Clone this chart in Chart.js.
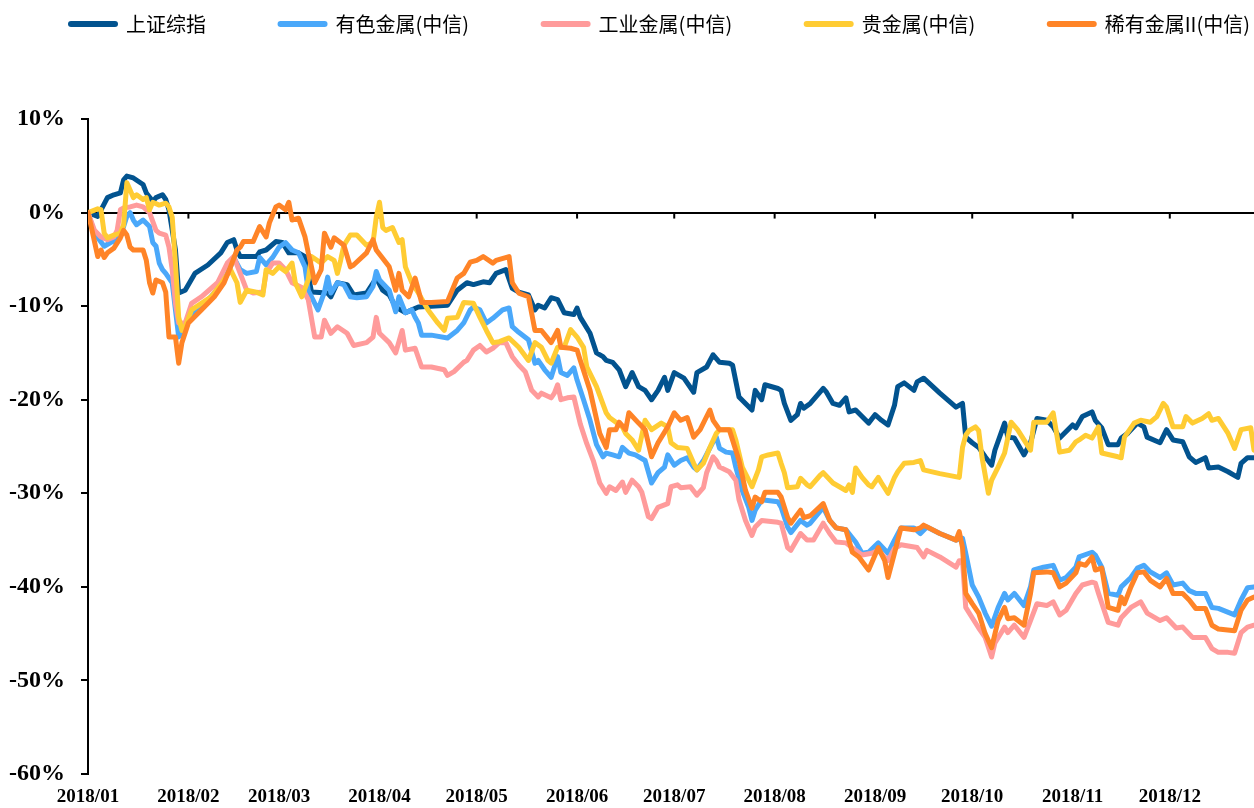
<!DOCTYPE html>
<html>
<head>
<meta charset="utf-8">
<script src="https://cdn.jsdelivr.net/npm/chart.js@4/dist/chart.umd.min.js"></script>
<style>
html,body{margin:0;padding:0;background:#ffffff;}
#wrap{width:1254px;height:808px;}
</style>
</head>
<body>
<div id="wrap"><canvas id="c" width="1254" height="808"></canvas></div>
<script>
// x = day of year 2018 (1 = Jan 2), y = cumulative return in %
const seriesNames = ['上证综指', '有色金属(中信)', '工业金属(中信)', '贵金属(中信)', '稀有金属II(中信)'];
const seriesColors = ['#02538F', '#4AA8FA', '#FF9B9B', '#FFCC33', '#FF8427'];

const monthTickDays = [1, 32, 60, 91, 121, 152, 182, 213, 244, 274, 305, 335];
const monthLabels = ['2018/01','2018/02','2018/03','2018/04','2018/05','2018/06','2018/07','2018/08','2018/09','2018/10','2018/11','2018/12'];

const shIndex = [[1,0],[4,-0.4],[7,1.6],[9,1.9],[11,2.1],[12,3.5],[13,3.9],[15,3.7],[18,3.0],[19,2.1],[21,1.2],[22,1.6],[24,1.9],[25,1.4],[26,0.3],[28,-4.0],[29,-8.6],[31,-8.3],[34,-6.5],[38,-5.6],[42,-4.3],[44,-3.2],[46,-2.9],[47,-4.0],[48,-4.7],[53,-4.7],[54,-4.2],[56,-4.0],[59,-3.1],[61,-3.2],[63,-4.3],[66,-4.3],[68,-4.7],[70,-8.5],[75,-8.6],[76,-9.0],[78,-7.5],[81,-7.7],[83,-8.8],[87,-8.6],[90,-7.0],[92,-8.3],[94,-8.8],[96,-10.1],[99,-10.7],[101,-10.4],[103,-10.1],[112,-9.9],[115,-8.3],[118,-7.5],[120,-7.7],[123,-7.4],[125,-7.5],[127,-6.5],[130,-6.1],[132,-8.1],[134,-8.5],[137,-8.8],[139,-10.4],[140,-9.9],[142,-10.2],[144,-9.1],[146,-9.3],[148,-10.7],[151,-10.9],[152,-10.2],[153,-11.2],[156,-12.9],[158,-15.0],[160,-15.4],[161,-15.8],[163,-16.0],[165,-16.8],[167,-18.6],[169,-17.1],[171,-18.6],[173,-19.0],[175,-20.0],[177,-19.0],[179,-17.6],[180,-19.0],[182,-17.1],[185,-17.7],[188,-19.2],[189,-17.1],[192,-16.5],[194,-15.2],[196,-16.0],[199,-16.1],[200,-16.3],[202,-19.7],[206,-21.1],[207,-19.0],[209,-20.0],[210,-18.4],[214,-18.8],[215,-19.0],[216,-20.4],[218,-22.2],[220,-21.6],[221,-20.4],[222,-20.9],[224,-20.4],[228,-18.8],[229,-19.2],[231,-20.4],[233,-20.6],[235,-19.8],[236,-21.3],[238,-21.1],[242,-22.5],[244,-21.6],[246,-22.2],[248,-22.7],[250,-20.6],[251,-18.6],[253,-18.2],[256,-19.0],[257,-18.1],[259,-17.7],[264,-19.3],[269,-20.8],[271,-20.4],[272,-24.0],[274,-24.6],[276,-25.1],[278,-26.1],[280,-27.0],[281,-25.4],[284,-22.5],[285,-24.0],[287,-24.1],[290,-25.9],[292,-24.6],[294,-22.0],[297,-22.2],[299,-22.9],[301,-24.1],[305,-22.7],[306,-23.0],[308,-21.8],[311,-21.3],[312,-22.2],[314,-23.0],[316,-24.8],[319,-24.8],[320,-24.1],[322,-23.6],[325,-22.5],[327,-22.9],[328,-24.0],[332,-24.6],[334,-23.2],[336,-24.3],[339,-24.5],[341,-26.1],[343,-26.7],[346,-26.2],[347,-27.3],[350,-27.2],[353,-27.7],[356,-28.3],[357,-26.8],[359,-26.2],[361,-26.2]];

const nonferrous = [[1,0],[3,-2.2],[6,-3.6],[8,-3.2],[10,-2.9],[12,-1.5],[13,-0.4],[14,0.0],[15,-0.8],[16,-1.3],[18,-0.8],[20,-1.5],[21,-3.2],[22,-3.6],[23,-5.4],[24,-6.1],[25,-6.5],[27,-7.5],[28,-10.4],[29,-13.3],[31,-12.2],[32,-11.2],[36,-10.1],[40,-8.6],[43,-7.2],[45,-5.8],[46,-4.8],[48,-6.1],[50,-6.5],[53,-6.3],[54,-4.8],[56,-5.6],[58,-4.8],[60,-3.7],[62,-3.2],[64,-4.0],[66,-4.3],[68,-5.8],[69,-8.3],[72,-10.4],[74,-8.5],[75,-6.9],[76,-8.6],[78,-7.5],[80,-7.7],[82,-9.0],[84,-9.1],[87,-9.0],[89,-7.9],[90,-6.3],[91,-7.2],[94,-8.3],[96,-10.6],[97,-9.0],[99,-10.7],[101,-10.4],[102,-11.2],[103,-11.8],[104,-13.1],[107,-13.1],[112,-13.4],[115,-12.6],[117,-11.8],[119,-10.4],[120,-10.1],[122,-10.4],[124,-11.8],[126,-11.3],[129,-10.4],[131,-10.2],[132,-12.2],[134,-12.8],[137,-13.6],[139,-16.1],[140,-15.8],[142,-16.8],[144,-17.6],[146,-15.4],[147,-17.1],[149,-17.4],[151,-16.6],[152,-17.9],[154,-20.0],[156,-22.2],[158,-24.8],[160,-26.1],[161,-25.7],[163,-25.9],[165,-26.1],[166,-25.1],[168,-25.7],[170,-25.9],[173,-26.5],[175,-28.9],[177,-27.8],[179,-27.2],[180,-25.9],[182,-27.0],[184,-26.5],[186,-26.2],[188,-27.2],[189,-27.5],[191,-26.5],[194,-24.5],[195,-24.0],[196,-25.2],[198,-25.6],[200,-25.7],[201,-27.2],[203,-29.7],[205,-31.5],[206,-32.9],[207,-31.8],[209,-30.7],[214,-30.9],[215,-31.5],[217,-33.6],[218,-34.2],[221,-32.9],[223,-33.4],[224,-33.2],[228,-31.5],[230,-32.9],[232,-33.7],[235,-33.9],[238,-35.2],[240,-36.4],[242,-36.3],[245,-35.3],[248,-36.4],[250,-35.0],[252,-33.7],[256,-33.7],[258,-34.3],[260,-33.6],[264,-34.3],[269,-35.0],[271,-34.8],[272,-36.4],[274,-39.8],[276,-41.1],[278,-42.8],[280,-44.2],[282,-42.2],[284,-40.7],[285,-41.4],[287,-40.7],[290,-42.0],[292,-40.0],[293,-38.2],[296,-37.9],[299,-37.7],[301,-39.3],[303,-39.0],[306,-37.9],[307,-36.8],[311,-36.3],[312,-36.6],[314,-37.9],[316,-40.7],[319,-40.9],[320,-40.0],[323,-39.0],[325,-38.0],[327,-37.7],[329,-38.4],[332,-39.0],[334,-38.5],[336,-39.8],[339,-39.6],[341,-40.4],[343,-40.7],[346,-40.7],[348,-42.2],[350,-42.3],[355,-43.0],[357,-41.4],[359,-40.1],[361,-40.0]];

const industrial = [[1,0],[3,-1.9],[5,-2.6],[7,-2.9],[9,-2.6],[10,-1.9],[11,0.3],[12,0.5],[14,0.6],[16,0.8],[18,0.6],[20,0.0],[22,-1.9],[23,-2.2],[25,-2.4],[26,-3.7],[27,-6.1],[28,-9.7],[29,-11.8],[31,-11.8],[33,-9.7],[36,-9.0],[41,-7.5],[44,-5.4],[46,-4.7],[48,-6.5],[50,-8.3],[52,-8.6],[55,-8.5],[56,-6.5],[58,-5.4],[60,-5.4],[62,-6.1],[64,-7.5],[67,-8.0],[69,-9.3],[71,-13.3],[73,-13.3],[74,-11.5],[76,-12.9],[78,-12.2],[81,-12.9],[83,-14.2],[87,-13.9],[89,-13.3],[90,-11.2],[91,-12.9],[94,-13.9],[96,-15.0],[98,-12.6],[99,-14.7],[102,-14.5],[104,-16.5],[107,-16.5],[111,-16.8],[112,-17.4],[114,-17.0],[117,-16.0],[118,-15.8],[120,-14.7],[122,-14.2],[124,-14.9],[126,-14.5],[128,-13.9],[130,-13.9],[132,-15.4],[134,-16.3],[136,-17.0],[138,-19.0],[140,-19.7],[141,-19.3],[144,-19.8],[145,-19.3],[146,-18.4],[147,-20.0],[149,-19.8],[151,-19.7],[153,-22.6],[155,-24.7],[157,-26.5],[159,-28.9],[161,-30.0],[162,-29.3],[164,-29.7],[166,-28.8],[167,-29.9],[169,-28.6],[171,-29.3],[172,-29.9],[174,-32.5],[175,-32.7],[177,-31.5],[180,-31.1],[181,-29.3],[183,-29.1],[184,-29.4],[187,-29.3],[189,-30.2],[191,-29.4],[192,-27.8],[194,-26.1],[195,-26.5],[196,-27.2],[199,-27.7],[201,-28.6],[202,-30.7],[204,-32.9],[206,-34.5],[207,-33.6],[209,-32.9],[214,-33.1],[215,-33.2],[217,-35.8],[218,-36.1],[221,-34.3],[223,-35.0],[225,-35.0],[228,-33.2],[230,-34.3],[232,-35.2],[235,-35.3],[238,-36.1],[240,-36.6],[243,-36.4],[245,-36.1],[248,-37.2],[250,-35.9],[252,-35.5],[257,-35.8],[259,-36.8],[260,-36.1],[264,-36.8],[269,-37.9],[270,-37.2],[271,-37.2],[272,-42.2],[274,-43.3],[276,-44.4],[278,-45.4],[280,-47.5],[281,-46.0],[284,-44.3],[285,-44.9],[287,-44.1],[290,-45.4],[292,-43.6],[294,-41.8],[297,-42.0],[299,-41.6],[301,-43.0],[303,-42.5],[306,-40.7],[308,-39.8],[311,-39.5],[312,-39.6],[313,-40.7],[316,-43.8],[319,-44.1],[320,-43.3],[323,-42.2],[326,-41.6],[328,-42.8],[332,-43.6],[334,-43.3],[337,-44.4],[339,-44.3],[342,-45.4],[346,-45.4],[348,-46.6],[350,-47.0],[353,-47.0],[355,-47.1],[357,-44.9],[359,-44.3],[361,-44.1]];

const precious = [[1,0],[4,0.4],[5,0.3],[6,-2.2],[7,-2.7],[9,-2.4],[11,-2.2],[12,-1.3],[13,3.2],[15,1.6],[16,1.9],[18,1.4],[19,1.6],[20,0.3],[21,1.1],[23,0.8],[25,1.0],[26,0.6],[27,-0.5],[28,-5.4],[29,-11.2],[30,-12.6],[31,-12.2],[33,-10.4],[36,-9.7],[39,-9.0],[42,-7.7],[45,-6.1],[47,-7.5],[48,-9.6],[50,-8.3],[53,-8.5],[55,-8.8],[56,-6.1],[58,-6.5],[60,-5.8],[62,-6.3],[64,-5.4],[65,-7.5],[67,-9.0],[69,-7.2],[70,-4.7],[73,-5.4],[75,-4.7],[77,-5.1],[78,-6.5],[79,-5.1],[80,-3.5],[82,-2.4],[84,-2.4],[87,-3.5],[89,-3.2],[90,-0.5],[91,1.1],[92,-1.6],[93,-1.9],[95,-1.6],[97,-3.2],[98,-2.9],[99,-5.8],[101,-7.5],[103,-8.6],[106,-10.4],[109,-11.8],[111,-12.6],[112,-11.3],[115,-11.2],[117,-9.6],[120,-9.7],[122,-11.2],[124,-12.6],[126,-13.9],[128,-13.8],[131,-13.4],[134,-14.4],[137,-15.8],[139,-13.9],[141,-14.4],[143,-15.8],[144,-16.1],[146,-14.4],[148,-14.4],[150,-12.5],[152,-13.3],[154,-14.4],[155,-16.5],[158,-18.6],[161,-21.4],[162,-21.9],[164,-22.4],[166,-22.9],[167,-23.6],[169,-24.3],[171,-25.4],[173,-22.2],[175,-23.2],[178,-22.5],[180,-22.9],[181,-24.6],[183,-25.1],[186,-25.2],[188,-26.8],[189,-27.5],[191,-26.8],[193,-25.1],[195,-23.6],[196,-23.2],[200,-23.2],[201,-24.3],[203,-27.2],[205,-28.6],[206,-29.3],[208,-27.5],[209,-26.1],[211,-25.9],[214,-25.7],[215,-26.8],[216,-27.8],[217,-29.4],[220,-29.3],[221,-28.4],[223,-29.1],[224,-29.3],[227,-28.1],[228,-27.8],[231,-28.9],[233,-29.3],[235,-29.7],[236,-29.1],[237,-29.9],[238,-27.3],[240,-28.3],[242,-29.1],[243,-29.3],[245,-28.3],[246,-28.9],[248,-30.0],[250,-28.3],[251,-27.7],[253,-26.8],[256,-26.7],[258,-26.5],[259,-27.5],[264,-27.9],[270,-28.3],[271,-25.1],[272,-23.8],[273,-23.3],[275,-22.9],[276,-23.3],[277,-26.1],[279,-30.0],[280,-28.6],[282,-27.2],[284,-25.7],[286,-22.4],[288,-23.2],[290,-24.3],[292,-25.4],[293,-22.4],[297,-22.4],[299,-21.4],[301,-25.6],[304,-25.4],[306,-24.5],[307,-24.3],[309,-23.8],[311,-24.1],[313,-22.9],[314,-25.7],[319,-26.1],[320,-26.2],[321,-24.0],[324,-22.5],[326,-22.2],[329,-22.4],[331,-21.8],[333,-20.4],[334,-20.8],[336,-22.9],[339,-22.9],[340,-21.8],[342,-22.5],[345,-22.0],[347,-21.5],[348,-22.2],[350,-22.0],[353,-23.6],[355,-25.2],[357,-23.2],[360,-23.0],[361,-25.4]];

const rareMetals = [[1,0],[2,-1.5],[4,-4.7],[5,-4.0],[6,-4.8],[7,-4.3],[9,-3.8],[11,-2.7],[12,-1.9],[13,-2.4],[14,-3.7],[15,-4.0],[18,-4.0],[19,-5.1],[20,-7.5],[21,-8.6],[22,-7.2],[24,-7.5],[25,-8.5],[26,-13.3],[28,-13.3],[29,-16.1],[30,-13.9],[32,-11.8],[36,-10.4],[40,-9.0],[43,-7.5],[45,-5.8],[47,-4.0],[48,-3.7],[49,-3.1],[52,-3.1],[54,-1.5],[56,-2.6],[57,-1.1],[59,0.6],[60,0.8],[62,0.3],[63,1.1],[64,-0.8],[66,-0.6],[68,-2.6],[69,-4.3],[70,-5.8],[71,-7.5],[73,-6.1],[74,-2.2],[76,-3.7],[77,-2.7],[80,-3.5],[82,-5.8],[83,-5.6],[87,-4.3],[89,-2.9],[90,-4.0],[94,-5.8],[96,-8.3],[97,-6.5],[98,-8.3],[100,-9.0],[102,-7.0],[103,-8.3],[104,-9.6],[107,-9.6],[112,-9.5],[115,-7.0],[117,-6.5],[119,-5.3],[121,-5.1],[123,-4.7],[126,-5.4],[127,-5.1],[131,-4.7],[132,-7.5],[134,-8.6],[137,-9.0],[139,-12.6],[141,-12.6],[144,-13.9],[146,-12.6],[147,-14.4],[150,-14.5],[152,-14.7],[153,-15.8],[156,-19.0],[159,-23.6],[161,-25.1],[162,-23.2],[164,-23.2],[165,-22.4],[167,-23.2],[168,-21.4],[171,-22.5],[173,-23.2],[175,-26.1],[177,-24.6],[180,-22.9],[182,-21.4],[184,-22.2],[186,-21.9],[188,-24.0],[190,-23.2],[193,-21.1],[194,-22.2],[196,-23.2],[199,-23.2],[202,-26.5],[204,-29.7],[206,-31.6],[207,-30.4],[209,-30.9],[210,-29.9],[214,-29.9],[215,-30.4],[217,-32.6],[218,-33.2],[221,-31.8],[222,-32.6],[224,-32.4],[228,-31.1],[230,-32.9],[232,-33.7],[235,-33.9],[237,-36.3],[239,-36.8],[242,-38.2],[245,-35.8],[247,-37.2],[248,-39.0],[250,-36.4],[252,-33.7],[256,-33.9],[258,-33.7],[259,-33.4],[264,-34.3],[269,-35.0],[270,-34.1],[271,-35.8],[272,-40.7],[274,-41.8],[276,-42.8],[278,-45.0],[280,-46.5],[282,-43.6],[284,-42.2],[285,-43.4],[287,-43.3],[290,-44.1],[292,-40.7],[293,-38.5],[297,-38.4],[299,-38.5],[301,-40.0],[303,-39.6],[306,-38.5],[307,-37.5],[309,-37.7],[311,-36.8],[312,-38.2],[314,-38.0],[316,-42.2],[319,-42.5],[320,-41.1],[321,-41.8],[323,-40.0],[325,-38.5],[327,-38.4],[329,-39.3],[332,-40.0],[334,-39.1],[336,-40.7],[339,-40.7],[341,-41.4],[343,-42.3],[346,-42.3],[348,-44.1],[350,-44.5],[355,-44.7],[357,-42.5],[359,-41.4],[361,-41.1]];

const seriesData = [shIndex, nonferrous, industrial, precious, rareMetals];

const datasets = seriesData.map((arr, i) => ({
  label: seriesNames[i],
  data: arr.map(p => ({x: p[0], y: p[1]})),
  borderColor: seriesColors[i],
  backgroundColor: seriesColors[i],
  borderWidth: 5,
  pointRadius: 0,
  fill: false,
  order: seriesData.length - 1 - i
}));

// small tick marks hanging below the 0% line at each month tick
const zeroTicks = {
  id: 'zeroTicks',
  beforeDatasetsDraw(chart) {
    const {ctx, scales: {x, y}} = chart;
    const y0 = y.getPixelForValue(0);
    ctx.save();
    ctx.strokeStyle = '#000';
    ctx.lineWidth = 2;
    x.ticks.forEach(t => {
      const px = x.getPixelForValue(t.value);
      if (px <= chart.chartArea.left + 1) return;
      ctx.beginPath();
      ctx.moveTo(px, y0);
      ctx.lineTo(px, y0 + 6);
      ctx.stroke();
    });
    ctx.restore();
  }
};

// legend row across the top
const topLegend = {
  id: 'topLegend',
  afterDraw(chart) {
    const ctx = chart.ctx;
    ctx.save();
    ctx.font = '20px "Noto Sans CJK SC"';
    ctx.textBaseline = 'middle';
    ctx.textAlign = 'left';
    const lineLen = 50, gap = 8, left = 68, right = 1250, yMid = 24;
    const items = chart.data.datasets.map(ds => ({
      label: ds.label, color: ds.borderColor,
      w: lineLen + gap + ctx.measureText(ds.label).width
    }));
    const sum = items.reduce((s, it) => s + it.w, 0);
    const spacing = (right - left - sum) / (items.length - 1);
    let x = left;
    items.forEach(it => {
      ctx.strokeStyle = it.color;
      ctx.lineWidth = 6;
      ctx.lineCap = 'round';
      ctx.beginPath();
      ctx.moveTo(x + 3, yMid);
      ctx.lineTo(x + lineLen - 3, yMid);
      ctx.stroke();
      ctx.fillStyle = '#000';
      ctx.fillText(it.label, x + lineLen + gap, yMid);
      x += it.w + spacing;
    });
    ctx.restore();
  }
};

new Chart(document.getElementById('c'), {
  type: 'line',
  data: { datasets },
  options: {
    responsive: false,
    animation: false,
    devicePixelRatio: 1,
    layout: { padding: { top: 119, right: 0, left: 0, bottom: 0 } },
    plugins: { legend: { display: false }, tooltip: { enabled: false } },
    elements: { line: { tension: 0, borderJoinStyle: 'round', borderCapStyle: 'round' }, point: { radius: 0 } },
    scales: {
      x: {
        type: 'linear', min: 1, max: 361,
        afterBuildTicks: s => { s.ticks = monthTickDays.map(v => ({ value: v })); },
        afterFit: s => { s.height = 34; },
        ticks: {
          autoSkip: false, maxRotation: 0, minRotation: 0, padding: 12, color: '#000',
          font: { family: '"Liberation Serif"', size: 19, weight: 'bold' },
          callback: (v, i) => monthLabels[i]
        },
        grid: { display: false, drawTicks: false },
        border: { display: false }
      },
      y: {
        min: -60, max: 10,
        afterFit: s => { s.width = 88; },
        ticks: {
          stepSize: 10, padding: 16, color: '#000',
          font: { family: '"Liberation Serif"', size: 24, weight: 'bold' },
          callback: v => v + '%'
        },
        grid: {
          color: c => (c.tick && c.tick.value === 0) ? '#000' : 'rgba(0,0,0,0)',
          lineWidth: 2, tickColor: '#000', tickLength: 7, tickWidth: 2
        },
        border: { display: true, color: '#000', width: 2 }
      }
    }
  },
  plugins: [zeroTicks, topLegend]
});
</script>
</body>
</html>
